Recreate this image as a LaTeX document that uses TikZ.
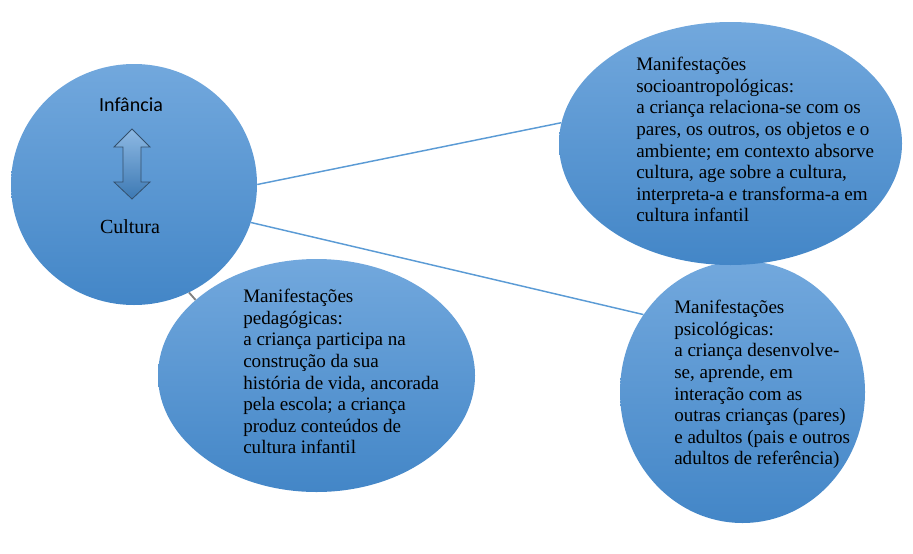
\documentclass[tikz,border=0pt]{standalone}
\usepackage{fontspec}
\setmainfont{Liberation Serif}
\newfontfamily\calibrifont{Carlito}
\usetikzlibrary{shapes.geometric}
\definecolor{blobtop}{HTML}{72A8DD}
\definecolor{blobbot}{HTML}{4386C7}
\definecolor{linkblue}{HTML}{5B9BD5}
\definecolor{linkgray}{HTML}{808080}
\definecolor{arrowedge}{HTML}{34506C}
\tikzset{
  blob/.style={ellipse, draw=none, top color=blobtop, bottom color=blobbot, inner sep=0pt},
  blobtext/.style={anchor=north west, inner sep=0pt, align=left, text=black,
    font=\fontsize{14.3}{16.2}\selectfont},
  link/.style={draw=linkblue, line width=1.1pt},
}
\begin{document}
\begin{tikzpicture}[x=0.75pt, y=-0.75pt]
\useasboundingbox (0,0) rectangle (913,553);
% ellipses
\node[blob, minimum width=184.5pt, minimum height=180.75pt] (core) at (134,184.5) {};
\node[blob, minimum width=183.75pt, minimum height=196.5pt] (psico) at (742.5,392) {};
\node[blob, minimum width=257.25pt, minimum height=182.25pt] (socio) at (730.5,143.5) {};
\node[blob, minimum width=237.75pt, minimum height=174.75pt] (pedag) at (316.5,375.5) {};
% connectors
\draw[link] (core.0.9) -- (socio.173);
\draw[link] (core.-18.7) -- (psico.142.3);
\draw[draw=linkgray, line width=1.4pt] (core.-63.6) -- (pedag.148.8);
% double arrow
\draw[arrowedge, line width=0.6pt, top color=blobtop!80!white, bottom color=blobbot!90!black]
  (132,129) -- (150,147) -- (141,147) -- (141,182) -- (150,182) -- (132,199)
  -- (114,182) -- (123,182) -- (123,147) -- (114,147) -- cycle;
% texts
\node[inner sep=0pt, font=\calibrifont\fontsize{15}{18}\selectfont] (inf) at (131,105) {Infância};
\node[inner sep=0pt, font=\fontsize{15}{18}\selectfont] (cult) at (130,227) {Cultura};
\node[blobtext] (socioT) at (636,57) {Manifestações\\socioantropológicas:\\a criança relaciona-se com os\\pares, os outros, os objetos e o\\ambiente; em contexto absorve\\cultura, age sobre a cultura,\\interpreta-a e transforma-a em\\cultura infantil};
\node[blobtext] (pedagT) at (243,289) {Manifestações\\pedagógicas:\\a criança participa na\\construção da sua\\história de vida, ancorada\\pela escola; a criança\\produz conteúdos de\\cultura infantil};
\node[blobtext] (psicoT) at (674,300) {Manifestações\\psicológicas:\\a criança desenvolve-\\se, aprende, em\\interação com as\\outras crianças (pares)\\e adultos (pais e outros\\adultos de referência)};
\end{tikzpicture}
\end{document}
